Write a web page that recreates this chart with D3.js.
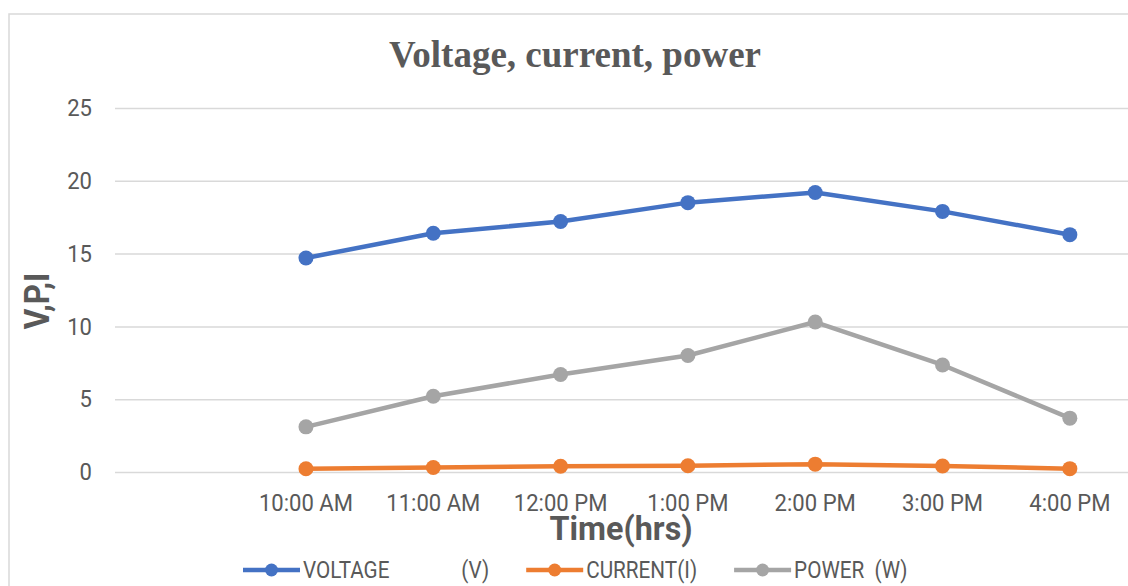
<!DOCTYPE html>
<html>
<head>
<meta charset="utf-8">
<title>Voltage, current, power</title>
<script src="https://cdnjs.cloudflare.com/ajax/libs/d3/7.8.5/d3.min.js"></script>
<style>
    body{margin:0;background:#fff;}
    #chart text{fill:#595959;}
</style>
</head>
<body>
<svg id="chart" width="1128" height="586"></svg>
<script>
// data (first slot on the category axis is empty)
var categories = ["", "10:00 AM", "11:00 AM", "12:00 PM", "1:00 PM", "2:00 PM", "3:00 PM", "4:00 PM"];
var voltage = [null, 14.7, 16.4, 17.2, 18.5, 19.2, 17.9, 16.3];
var current = [null, 0.22, 0.31, 0.39, 0.43, 0.54, 0.41, 0.23];
var power   = [null, 3.1, 5.2, 6.7, 8.0, 10.3, 7.35, 3.7];
var yTicks = [0, 5, 10, 15, 20, 25];
var seriesNames = ["VOLTAGE              (V)", "CURRENT(I)", "POWER  (W)"];
var seriesColors = ["#4472C4", "#ED7D31", "#A5A5A5"];

var svg = d3.select("#chart");
var font = "Roboto, 'Liberation Sans', sans-serif";
var sx = 0.92; // the original text is a bit narrow

var mLeft = 115, mRight = 1133.5, mTop = 108, mBottom = 472;

var x = d3.scaleBand().domain(categories).range([mLeft, mRight]);
var y = d3.scaleLinear().domain([0, 25]).range([mBottom, mTop]);

// chart frame
svg.append("rect")
    .attr("x", 9).attr("y", 14)
    .attr("width", 1140).attr("height", 600)
    .attr("fill", "#fff").attr("stroke", "#D9D9D9").attr("stroke-width", 1.5);

// title
svg.append("text")
    .attr("x", 575).attr("y", 67)
    .attr("text-anchor", "middle")
    .style("font-family", "'Liberation Serif', 'Times New Roman', serif")
    .style("font-weight", "bold")
    .style("font-size", "37px")
    .text("Voltage, current, power");

// y axis + gridlines
var gy = svg.append("g")
    .attr("transform", "translate(" + mLeft + ",0)")
    .call(d3.axisLeft(y).tickValues(yTicks).tickSize(-(mRight - mLeft)).tickPadding(25));
gy.select(".domain").remove();
gy.selectAll("line").attr("stroke", "#D9D9D9").attr("stroke-width", 1.5);
gy.selectAll("text")
    .attr("transform", "scale(" + sx + ",1)")
    .style("font-family", font).style("font-size", "24px");

// x axis
var gx = svg.append("g")
    .attr("transform", "translate(0," + mBottom + ")")
    .call(d3.axisBottom(x).tickSize(0));
gx.select(".domain").remove();
gx.selectAll("text")
    .attr("y", 39).attr("dy", null)
    .attr("transform", "scale(" + sx + ",1)")
    .style("font-family", font).style("font-size", "24px");

// axis titles
svg.append("text")
    .attr("transform", "translate(621,540) scale(0.95,1)")
    .attr("text-anchor", "middle")
    .style("font-family", font).style("font-weight", "bold").style("font-size", "34px")
    .text("Time(hrs)");

svg.append("text")
    .attr("transform", "translate(49,301) rotate(-90) scale(0.9,1)")
    .attr("text-anchor", "middle")
    .style("font-family", font).style("font-weight", "bold").style("font-size", "35px")
    .text("V,P,I");

// series
var series = [voltage, current, power];
var cx = function(d, i) { return x(categories[i]) + x.bandwidth() / 2; };
var line = d3.line()
    .defined(function(d) { return d != null; })
    .x(cx)
    .y(function(d) { return y(d); });

series.forEach(function(vals, s) {
    var g = svg.append("g");
    g.append("path")
        .datum(vals)
        .attr("d", line)
        .attr("fill", "none")
        .attr("stroke", seriesColors[s])
        .attr("stroke-width", 4.5)
        .attr("stroke-linejoin", "round")
        .attr("stroke-linecap", "round");
    g.selectAll("circle")
        .data(vals.map(function(d, i) { return {v: d, i: i}; }).filter(function(d) { return d.v != null; }))
        .enter().append("circle")
        .attr("cx", function(d) { return cx(d.v, d.i); })
        .attr("cy", function(d) { return y(d.v); })
        .attr("r", 7.5)
        .attr("fill", seriesColors[s]);
});

// legend
var lx = 243, ly = 570;
seriesNames.forEach(function(name, s) {
    var g = svg.append("g");
    g.append("line")
        .attr("x1", lx).attr("x2", lx + 57)
        .attr("y1", ly).attr("y2", ly)
        .attr("stroke", seriesColors[s]).attr("stroke-width", 4.5);
    g.append("circle")
        .attr("cx", lx + 28.5).attr("cy", ly).attr("r", 6.5)
        .attr("fill", seriesColors[s]);
    var t = g.append("text")
        .attr("transform", "translate(" + (lx + 60) + "," + (ly + 8) + ") scale(0.9,1)")
        .style("font-family", font).style("font-size", "23px")
        .style("white-space", "pre")
        .text(name);
    lx += 60 + t.node().getComputedTextLength() * 0.9 + 37;
});
</script>
</body>
</html>
